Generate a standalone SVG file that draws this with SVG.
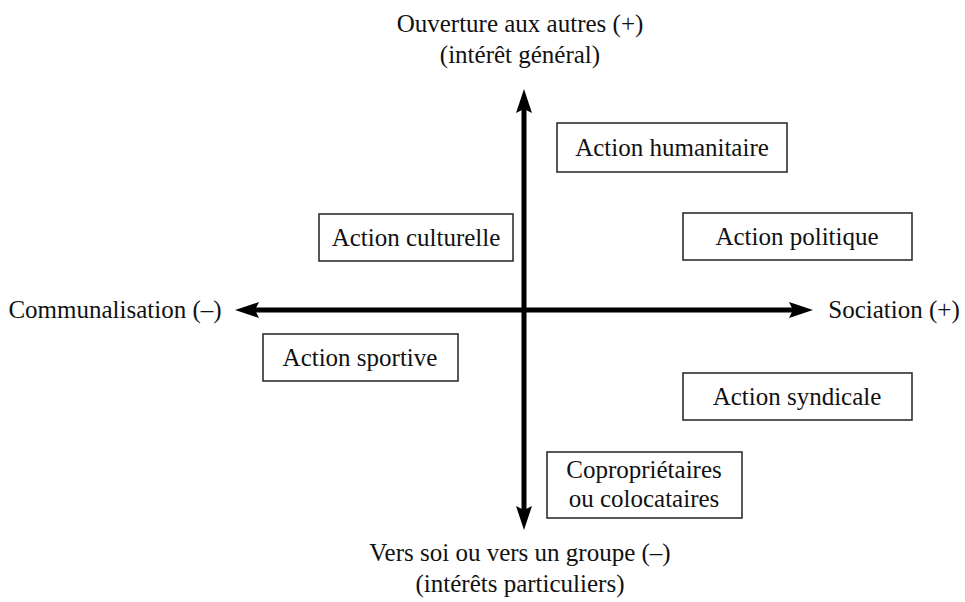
<svg xmlns="http://www.w3.org/2000/svg" width="965" height="602" viewBox="0 0 965 602">
<style>
text{font-family:"Liberation Serif","Times New Roman",serif;font-size:25px;fill:#111;text-anchor:middle}
.box{fill:#fff;stroke:#222;stroke-width:1.5}
.axis{stroke:#000;stroke-width:5;fill:none}
</style>
<defs>
<marker id="ah" viewBox="0 0 24 16" refX="4" refY="8" markerWidth="24" markerHeight="16" markerUnits="userSpaceOnUse" orient="auto-start-reverse">
<path d="M0,0 L24,8 L0,16 L4,8 z" fill="#000"/>
</marker>
</defs>
<rect width="965" height="602" fill="#fff"/>
<g id="connectors">
<line class="axis" x1="524" y1="109" x2="524" y2="510" marker-start="url(#ah)" marker-end="url(#ah)"/>
<line class="axis" x1="255" y1="310" x2="793" y2="310" marker-start="url(#ah)" marker-end="url(#ah)"/>
</g>
<g id="label-top">
<text x="520" y="32">Ouverture aux autres (+)</text>
<text x="520" y="63">(intérêt général)</text>
</g>
<g id="label-bottom">
<text x="520" y="561">Vers soi ou vers un groupe (–)</text>
<text x="520" y="592">(intérêts particuliers)</text>
</g>
<g id="label-left">
<text x="115" y="318">Communalisation (–)</text>
</g>
<g id="label-right">
<text x="894" y="318">Sociation (+)</text>
</g>
<g id="n-humanitaire">
<rect class="box" x="557" y="123" width="230" height="49"/>
<text x="672" y="156">Action humanitaire</text>
</g>
<g id="n-culturelle">
<rect class="box" x="319" y="214" width="194" height="47"/>
<text x="416" y="246">Action culturelle</text>
</g>
<g id="n-politique">
<rect class="box" x="683" y="213" width="229" height="47"/>
<text x="797" y="245">Action politique</text>
</g>
<g id="n-sportive">
<rect class="box" x="263" y="334" width="195" height="47"/>
<text x="360" y="366">Action sportive</text>
</g>
<g id="n-syndicale">
<rect class="box" x="683" y="373" width="229" height="47"/>
<text x="797" y="405">Action syndicale</text>
</g>
<g id="n-copro">
<rect class="box" x="547" y="452" width="195" height="66"/>
<text x="644" y="478">Copropriétaires</text>
<text x="644" y="507">ou colocataires</text>
</g>
</svg>
